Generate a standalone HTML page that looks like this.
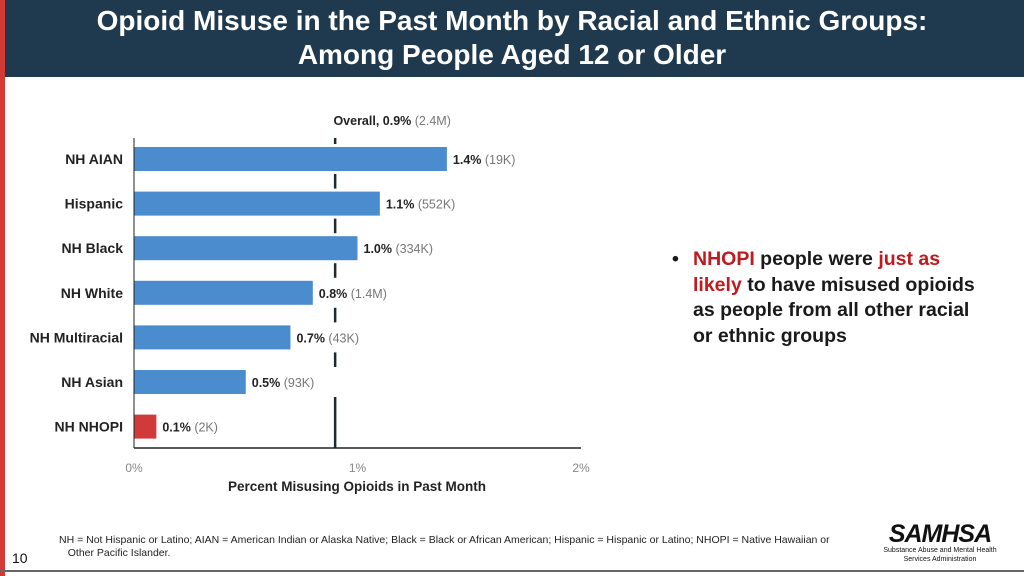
<!DOCTYPE html>
<html><head><meta charset="utf-8"><style>
body{margin:0;width:1024px;height:576px;overflow:hidden;background:#fff;font-family:"Liberation Sans",sans-serif;position:relative}
.hdr{position:absolute;left:0;top:0;width:1024px;height:77px;background:#1f3a4e}
.red{position:absolute;left:0;top:0;width:5px;height:576px;background:#d33a35}
.title{position:absolute;left:0;top:4px;width:1024px;text-align:center;color:#fff;font-size:28px;font-weight:bold;line-height:34px}
.bul{position:absolute;left:672px;top:247px;width:340px;font-size:19.5px;line-height:25.5px;font-weight:bold;color:#1a1a1a;white-space:nowrap}
.r{color:#c0191e}
</style></head><body>
<div class="hdr"></div>
<div class="red"></div>
<div class="title">Opioid Misuse in the Past Month by Racial and Ethnic Groups:<br>Among People Aged 12 or Older</div>
<svg id="chart" width="1024" height="576" style="position:absolute;left:0;top:0"></svg>
<div class="bul"><span style="position:absolute;left:0">•</span><div style="margin-left:21px"><span class="r">NHOPI</span> people were <span class="r">just as</span><br><span class="r">likely</span> to have misused opioids<br>as people from all other racial<br>or ethnic groups</div></div>
<div style="position:absolute;left:59px;top:534px;font-size:10.5px;line-height:13px;color:#222">NH = Not Hispanic or Latino; AIAN = American Indian or Alaska Native; Black = Black or African American; Hispanic = Hispanic or Latino; NHOPI = Native Hawaiian or<br>&nbsp;&nbsp;&nbsp;Other Pacific Islander.</div>
<div style="position:absolute;left:12px;top:550px;font-size:14px;color:#111">10</div>
<div style="position:absolute;left:870px;top:522px;width:140px;text-align:center;color:#111;white-space:nowrap">
<div style="font-size:25px;font-weight:bold;font-style:italic;line-height:24px;letter-spacing:-1px">SAMHSA</div>
<div style="font-size:7px;line-height:9px">Substance Abuse and Mental Health<br>Services Administration</div></div>
<div style="position:absolute;left:0;top:570px;width:1024px;height:2px;background:#666"></div>
<script>
const categories=["NH AIAN","Hispanic","NH Black","NH White","NH Multiracial","NH Asian","NH NHOPI"];
const values=[1.4,1.1,1.0,0.8,0.7,0.5,0.1];
const counts=["19K","552K","334K","1.4M","43K","93K","2K"];
const overall=0.9;
const overallCount="2.4M";
const ticks=[0,1,2];
const svg=document.getElementById('chart');
const NS="http://www.w3.org/2000/svg";
const x=v=>134+v*223.5;
const y=i=>147+i*44.6;
function mk(t,a,txt){const e=document.createElementNS(NS,t);for(const k in a)e.setAttribute(k,a[k]);if(txt!=null)e.textContent=txt;svg.appendChild(e);return e;}
const ol=mk('line',{x1:x(overall),x2:x(overall),y1:138,y2:448,stroke:'#1e2a30','stroke-width':2.5});


categories.forEach((c,i)=>{
 if(i===categories.length-1)return;
 const b=mk('rect',{x:x(0),y:y(i)-3,width:x(2)-x(0),height:30,fill:'#fff'});
 
 
});
categories.forEach((c,i)=>{
 const b=mk('rect',{x:x(0),y:y(i),width:x(values[i])-x(0),height:24,fill:c==="NH NHOPI"?"#d13a3a":"#4a8ccd"});
 
 
 const l=mk('text',{x:123,y:y(i)+17,'text-anchor':'end','font-size':14,'font-weight':'bold',fill:'#222'},c);
 
 
 const v=mk('text',{x:x(values[i])+6,y:y(i)+17,'font-size':12.5,fill:'#222'});
 
 
 v.innerHTML='<tspan font-weight="bold">'+values[i].toFixed(1)+'%</tspan><tspan fill="#777"> ('+counts[i]+')</tspan>';
});
const ot=mk('text',{x:x(overall)+57,y:125,'text-anchor':'middle','font-size':12.5,fill:'#222'});


ot.innerHTML='<tspan font-weight="bold">Overall, '+overall+'%</tspan><tspan fill="#777"> ('+overallCount+')</tspan>';
const ya=mk('line',{x1:x(0),x2:x(0),y1:138,y2:448,stroke:'#222','stroke-width':1});


const xa=mk('line',{x1:x(0),x2:x(2),y1:448,y2:448,stroke:'#222','stroke-width':1.5});


ticks.forEach(t=>{const e=mk('text',{x:x(t),y:472,'text-anchor':'middle','font-size':12,fill:'#888'},t+'%');
 
 });
const xt=mk('text',{x:357,y:491,'text-anchor':'middle','font-size':13.5,'font-weight':'bold',fill:'#222'},'Percent Misusing Opioids in Past Month');


</script>
</body></html>
